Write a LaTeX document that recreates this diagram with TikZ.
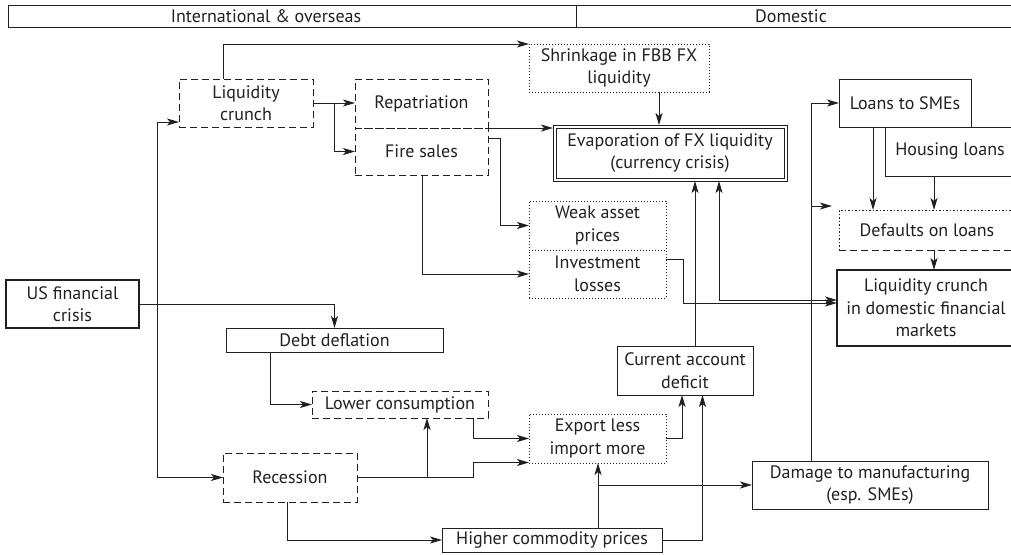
\documentclass[tikz,border=0pt]{standalone}
\usepackage{fontspec}
\setmainfont{PT Sans}
\usetikzlibrary{arrows.meta}
\definecolor{ink}{RGB}{35,31,32}

\begin{document}
\begin{tikzpicture}[
  x=1pt, y=1pt,
  >={Stealth[length=12pt, width=7pt, inset=3pt]},
  line width=1pt, color=ink,
  every node/.style={font=\fontsize{18}{22.5}\selectfont},
  box/.style={draw, align=center, inner sep=1pt, outer sep=0pt},
  dbox/.style={box, dash pattern=on 7pt off 4pt},
  pbox/.style={box, dash pattern=on 1pt off 2pt},
  hbox/.style={box, line width=1.8pt},
  cell/.style={draw, minimum height=22pt, inner sep=0pt, outer sep=0pt},
]
  \useasboundingbox (0,0) rectangle (1011,-554);
  \clip (0,0) rectangle (1011,-554);

  % ---------------- header
  \node[cell, minimum width=568pt] (intl) at (292,-16) {};
  \node[cell, minimum width=444pt] (dom) at (798,-16) {};
  \node (intltxt) at (266,-16) {International \& overseas};
  \node (domtxt) at (791,-16) {Domestic};

  % ---------------- international & overseas
  \node[hbox, minimum width=133pt, minimum height=48pt] (us) at (72.5,-304) {US financial\\crisis};
  \node[dbox, minimum width=134pt, minimum height=48pt] (liq) at (246,-103) {Liquidity\\crunch};
  \node[dbox, minimum width=133pt, minimum height=49pt] (repat) at (421.5,-103.5) {Repatriation};
  \node[dbox, minimum width=133pt, minimum height=47pt] (fire) at (421.5,-151.5) {Fire sales};
  \node[pbox, minimum width=180pt, minimum height=48pt] (shrink) at (619,-68) {Shrinkage in FBB FX\\liquidity};
  \node[box, line width=0.8pt, minimum width=228pt, minimum height=50pt] (evap) at (670,-153) {Evaporation of FX liquidity\\(currency crisis)};
  \draw[line width=0.8pt] ([shift={(-3pt,3pt)}]evap.north west) rectangle ([shift={(3pt,-3pt)}]evap.south east);
  \node[pbox, minimum width=137pt, minimum height=49pt] (weak) at (597.5,-225.5) {Weak asset\\prices};
  \node[pbox, minimum width=137pt, minimum height=48pt] (invest) at (597.5,-274) {Investment\\losses};
  \node[box, minimum width=217pt, minimum height=24pt] (debt) at (334.5,-340) {Debt deflation};
  \node[dbox, minimum width=176pt, minimum height=27pt] (lower) at (400,-404.5) {Lower consumption};
  \node[dbox, minimum width=134pt, minimum height=49pt] (recess) at (290,-477.5) {Recession};
  \node[box, minimum width=220pt, minimum height=24pt] (comm) at (552,-540) {Higher commodity prices};
  \node[pbox, minimum width=137pt, minimum height=49pt] (export) at (597.5,-438.5) {Export less\\import more};
  \node[box, minimum width=136pt, minimum height=49pt] (cad) at (685,-370.5) {Current account\\deficit};

  % ---------------- domestic
  \node[box, minimum width=132pt, minimum height=48pt] (loans) at (905,-103) {Loans to SMEs};
  \node[box, minimum width=130pt, minimum height=49pt] (housing) at (950,-151.5) {Housing loans};
  \node[box, draw=none, minimum width=176pt, minimum height=40pt] (dfl) at (927,-230) {Defaults on loans};
  \draw[dash pattern=on 1.5pt off 2pt] (dfl.south west) |- (dfl.north east);
  \draw[dash pattern=on 7pt off 4pt] (dfl.south west) -- (dfl.south east);
  \node[hbox, minimum width=178pt, minimum height=76pt] (ldom) at (926,-308) {Liquidity crunch\\in domestic financial\\markets};
  \node[box, minimum width=236pt, minimum height=48pt] (damage) at (870,-485) {Damage to manufacturing\\(esp. SMEs)};

  % ---------------- links
  \coordinate (usj) at ([xshift=18pt]us.east);
  \draw[->] (us.east) -| (debt.north);
  \draw[->] (usj) |- ([yshift=-19pt]liq.west);
  \draw[->] (usj) |- (recess.west);
  \draw[->] ([xshift=-23pt]liq.north) |- (shrink.north west);
  \draw[->] (liq.east) -- (liq.east -| repat.west);
  \draw[->] ([xshift=21pt]liq.east) |- (fire.west);
  \draw[->] (repat.south east) -- ([xshift=-3pt]repat.south east -| evap.west);
  \draw[->] ([yshift=13.5pt]fire.east) -- ++(12pt,0) |- (weak.west);
  \draw[->] ([xshift=0.5pt]fire.south) |- (invest.west);
  \draw[->] ([xshift=40pt]shrink.south) -- ([xshift=40pt,yshift=3pt]shrink.south |- evap.north);
  \draw[->] ([yshift=15pt]invest.east) -- ++(17pt,0) |- ([yshift=5pt]ldom.west);
  \draw[<->] ([xshift=49pt,yshift=-3pt]evap.south) |- ([yshift=8pt]ldom.west);
  \draw[->] ([xshift=10pt]cad.north) -- ([xshift=10pt,yshift=-3pt]cad.north |- evap.south);
  \draw[->] ([xshift=-64.5pt]debt.south) |- (lower.west);
  \draw[->] ([xshift=73pt]lower.south) |- (export.west);
  \coordinate (rj) at ([xshift=70pt]recess.east);
  \draw[->] (recess.east) -- ++(116pt,0) |- ([yshift=-24pt]export.west);
  \draw[->] (rj) -- ([xshift=27pt]lower.south);
  \draw[->] ([xshift=-3pt]recess.south) |- (comm.west);
  \coordinate (cj) at ([xshift=46pt]comm.north |- damage.west);
  \draw[->] ([xshift=46pt]comm.north) -- ([xshift=46pt]comm.north |- export.south);
  \draw[->] (cj) -- (damage.west);
  \draw[->] (comm.east) -| ([xshift=17.5pt]cad.south);
  \draw[->] (export.east) -| ([xshift=-3pt]cad.south);
  \draw[->] ([xshift=-59pt]damage.north) |- (loans.west);
  \draw[->] ([xshift=-59pt]damage.north |- dfl.north) ++(0,4pt) -- ([xshift=-7pt,yshift=4pt]dfl.north west);
  \draw[->] ([xshift=-32pt]loans.south) -- ([xshift=-32pt]loans.south |- dfl.north);
  \draw[->] ([xshift=-16pt]housing.south) -- ([xshift=-16pt]housing.south |- dfl.north);
  \draw[->] ([xshift=7pt]dfl.south) -- ([xshift=7pt]dfl.south |- ldom.north);
\end{tikzpicture}
\end{document}
